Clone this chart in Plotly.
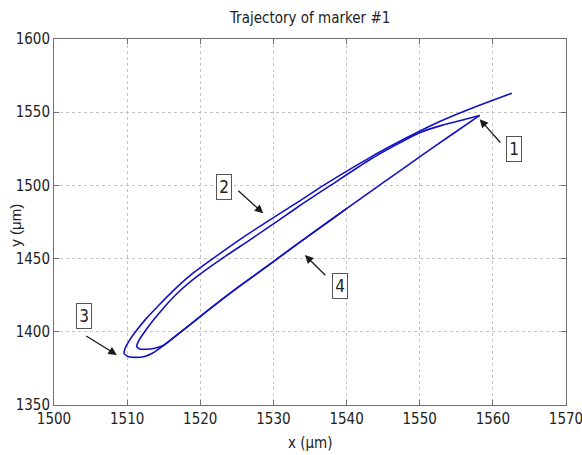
import plotly.graph_objects as go

# Marker #1 trajectory (micrometres), in the order it was traced
traj_x = [1562.6, 1560.0, 1556.0, 1552.0, 1548.0, 1543.0, 1537.0, 1533.0, 1530.0, 1526.0,
          1522.0, 1519.0, 1516.5, 1514.3, 1512.6, 1511.3, 1510.3, 1509.7, 1509.6, 1510.2,
          1511.2, 1512.4, 1513.5, 1515.0, 1518.0, 1521.0, 1525.0, 1530.0, 1535.0, 1540.0,
          1545.0, 1550.0, 1554.0, 1558.2,
          1556.5, 1553.0, 1550.0, 1546.5, 1543.0, 1537.8, 1534.0, 1530.8, 1527.0, 1522.8,
          1519.6, 1517.0, 1515.1, 1513.6, 1512.4, 1511.6, 1511.3, 1511.7, 1512.6, 1513.8,
          1515.0, 1518.0, 1521.0, 1525.0, 1530.0, 1535.0, 1540.0]
traj_y = [1563.0, 1558.2, 1550.5, 1542.0, 1532.0, 1518.5, 1500.5, 1487.5, 1478.0, 1465.0,
          1451.0, 1440.0, 1429.0, 1418.0, 1409.0, 1401.0, 1394.0, 1388.5, 1385.0, 1383.0,
          1382.5, 1383.1, 1385.5, 1390.8, 1402.5, 1414.5, 1429.8, 1448.0, 1466.2, 1484.1,
          1501.9, 1519.5, 1533.4, 1547.8,
          1545.5, 1541.0, 1536.0, 1527.0, 1517.0, 1500.0, 1487.5, 1476.5, 1463.5, 1449.5,
          1438.0, 1427.0, 1417.0, 1408.0, 1400.0, 1394.0, 1390.0, 1388.3, 1388.1, 1388.8,
          1390.8, 1402.5, 1414.5, 1429.8, 1448.0, 1466.2, 1484.1]
turn_index = 33  # sharp reversal near (1558, 1548)

# Numbered callouts: label position, arrow tail and arrow head
label_text = ["1", "2", "3", "4"]
label_x = [1562.9, 1523.3, 1504.1, 1539.1]
label_y = [1524.9, 1498.6, 1410.5, 1431.6]
tail_x = [1561.2, 1525.0, 1504.2, 1537.3]
tail_y = [1528.3, 1497.3, 1397.8, 1437.6]
head_x = [1558.2, 1528.6, 1508.6, 1534.3]
head_y = [1545.2, 1480.9, 1384.2, 1452.5]

x_ticks = [1500, 1510, 1520, 1530, 1540, 1550, 1560, 1570]
y_ticks = [1350, 1400, 1450, 1500, 1550, 1600]

NARROW = "Liberation Sans Narrow, Arial Narrow, DejaVu Sans Condensed, sans-serif"

fig = go.Figure()
# Drawn in two smooth pieces so the reversal stays a sharp cusp
for sl in (slice(0, turn_index + 1), slice(turn_index, None)):
    fig.add_trace(go.Scatter(
        x=traj_x[sl], y=traj_y[sl], mode="lines",
        line=dict(color="#1212c4", width=1.6, shape="spline", smoothing=0.5),
        showlegend=False, hoverinfo="skip",
    ))

annotations = []
for t, lx, ly, tx, ty, hx, hy in zip(label_text, label_x, label_y, tail_x, tail_y, head_x, head_y):
    annotations.append(dict(
        x=hx, y=hy, ax=tx, ay=ty, xref="x", yref="y", axref="x", ayref="y",
        text="", showarrow=True, arrowhead=2, arrowsize=1.3, arrowwidth=1.3,
        arrowcolor="#1a1a1a", standoff=0, startstandoff=0,
    ))
    annotations.append(dict(
        x=lx, y=ly, xref="x", yref="y", text=t, showarrow=False,
        font=dict(family=NARROW, size=17, color="#222"),
        bordercolor="#555", borderwidth=1, borderpad=2, bgcolor="white",
        width=10, height=20,
    ))

# Axis titles
annotations.append(dict(
    x=0.5, y=-0.104, xref="paper", yref="paper", text="x (μm)", showarrow=False,
    font=dict(family=NARROW, size=15, color="#222"), xanchor="center", yanchor="middle",
))
annotations.append(dict(
    x=-0.0742, y=0.49, xref="paper", yref="paper", text="y (μm)", showarrow=False,
    textangle=-90, font=dict(family="Liberation Sans, Arial, sans-serif", size=15, color="#222"),
    xanchor="center", yanchor="middle",
))

axis_common = dict(
    showline=True, linecolor="#707070", linewidth=1, mirror="ticks",
    ticks="inside", ticklen=5, tickcolor="#707070", tickwidth=1,
    showgrid=True, gridcolor="#c4c4c4", griddash="dot", gridwidth=1,
    zeroline=False, ticklabeloverflow="allow", automargin=False,
    tickfont=dict(family=NARROW, size=15, color="#222"),
)

fig.update_layout(
    width=582, height=455,
    margin=dict(l=54, r=16, t=39, b=50),
    paper_bgcolor="white", plot_bgcolor="white",
    title=dict(text="Trajectory of marker #1", x=0.533, xanchor="center",
               y=0.96, yanchor="middle",
               font=dict(family=NARROW, size=15, color="#222")),
    xaxis=dict(range=[1500, 1570], tickvals=x_ticks, **axis_common),
    yaxis=dict(range=[1350, 1600], tickvals=y_ticks, **axis_common),
    annotations=annotations,
)

fig.write_html("out.html")
